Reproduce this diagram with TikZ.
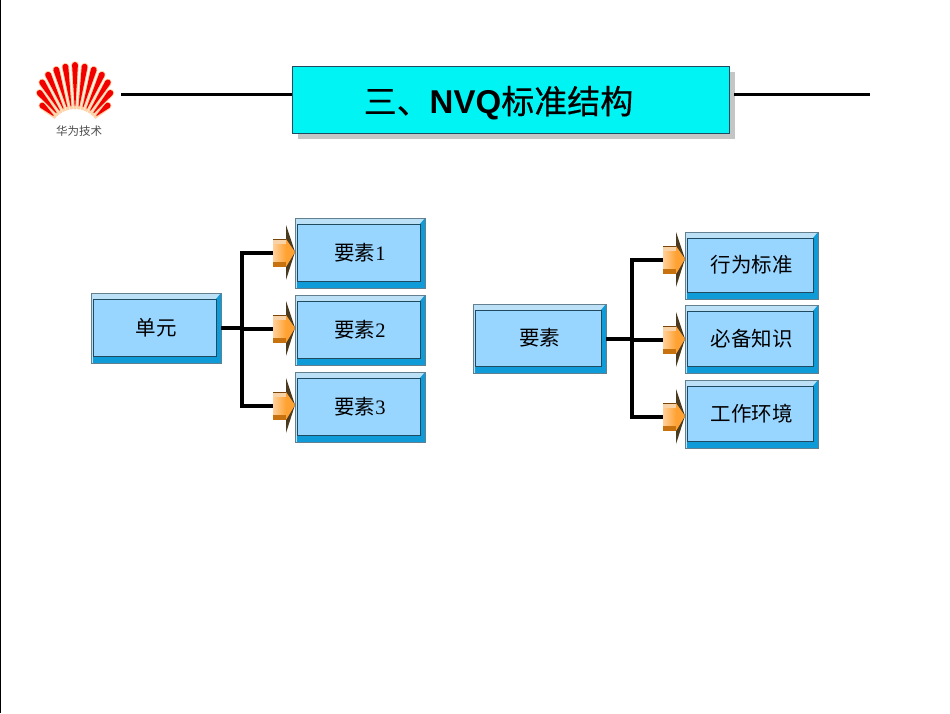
\documentclass[tikz,border=0pt]{standalone}
\usepackage{fontspec}
\setmainfont{Liberation Serif}
\newfontfamily\cjk{Noto Sans CJK SC}
\newfontfamily\cjkt[FakeBold=0.5]{Noto Sans CJK SC}
\newfontfamily\hds{Liberation Sans}
\definecolor{facec}{HTML}{99D6FF}
\definecolor{topc}{HTML}{BCE0F5}
\definecolor{sidec}{HTML}{0E9BD8}
\definecolor{edgec}{HTML}{1F4A60}
\definecolor{cyanc}{HTML}{00F4F4}
\definecolor{shadowc}{HTML}{C4C6C6}
\definecolor{orl}{HTML}{FFD09A}
\definecolor{orr}{HTML}{FFA233}
\definecolor{ord}{HTML}{C8720F}
\definecolor{ort}{HTML}{F8D3A8}
\definecolor{spike}{HTML}{4A3A20}
\tikzset{
  outerbox/.style={draw=edgec!70,line width=.7pt},
  facebox/.style={draw=edgec,line width=.9pt,fill=facec,inner sep=0pt,outer sep=0pt,font=\fontsize{20.5}{24}\selectfont},
  bodybox/.style={inner sep=0pt,outer sep=0pt,draw=none,left color=orl,right color=orr},
  conn/.style={line width=3.2pt,black},
  rulel/.style={line width=3pt,black},
  petal/.style={fill=red!95!black,draw=none}
}
% name, outer x0,y0,x1,y1, text
\newcommand{\elembox}[6]{%
  \pgfmathsetmacro{\ia}{#2+2}\pgfmathsetmacro{\ib}{#3+6}%
  \pgfmathsetmacro{\ic}{#4-5}\pgfmathsetmacro{\id}{#5-7}%
  \pgfmathsetmacro{\cxx}{(\ia+\ic)/2}\pgfmathsetmacro{\cyy}{(\ib+\id)/2}%
  \pgfmathsetmacro{\ww}{\ic-\ia}\pgfmathsetmacro{\hh}{\id-\ib}%
  \fill[topc] (#2,#3) rectangle (#4,\ib);
  \fill[topc] (#2,#3) rectangle (\ia,#5);
  \fill[sidec] (\ia,\id) rectangle (#4,#5);
  \fill[sidec] (\ic,\ib) -- (#4,#3) -- (#4,#5) -- (\ic,#5) -- cycle;
  \draw[outerbox] (#2,#3) rectangle (#4,#5);
  \node[facebox,minimum width=\ww pt,minimum height=\hh pt] (#1) at (\cxx,\cyy) {\hspace*{3pt}\raisebox{-2.5pt}{#6}};
}
% name, tip x, tip y
\newcommand{\blockarrow}[3]{%
  \pgfmathsetmacro{\ta}{#2-22}\pgfmathsetmacro{\tb}{#2-9}%
  \pgfmathsetmacro{\tc}{#3-27}\pgfmathsetmacro{\td}{#3+28}%
  \pgfmathsetmacro{\te}{#3-13}\pgfmathsetmacro{\tf}{#3+15}%
  \pgfmathsetmacro{\tg}{#3-8}\pgfmathsetmacro{\th}{#3+10}%
  \pgfmathsetmacro{\tcc}{#2-15.5}\pgfmathsetmacro{\tdd}{#3+1}%
  \fill[spike] (\tb,\tc) -- (#2,#3) -- (\tb,\td) -- cycle;
  \node[bodybox,minimum width=13pt,minimum height=18pt] (#1) at (\tcc,\tdd) {};
  \fill[ort] (\ta,\te) rectangle (\tb,\tg);
  \draw[ord!60!black,line width=.4pt] (\ta,\te) -- (\tb,\te);
  \fill[ord] (\ta,\th) rectangle (\tb,\tf);
  \fill[orr] (\tb,\te) -- (#2,#3) -- (\tb,\tf) -- cycle;
}
\begin{document}
\begin{tikzpicture}[x=1pt,y=-1pt]
\useasboundingbox (0,0) rectangle (950,713);
\fill[white] (0,0) rectangle (950,713);
\draw[line width=1.6pt,black] (0.6,0) -- (0.6,713);
% logo
\foreach \a/\r in {48/47,-48/47,40/58,-40/58,32/65,-32/65,24/69,-24/69,16/71,-16/71,8/72,-8/72,0/73}{
  \begin{scope}[shift={(75,135)},rotate=\a]
    \fill[orange!35] (-1.6,-26) -- (-3.8,-\r+3) arc[start angle=180,end angle=360,radius=3.8] -- (1.6,-26) -- cycle;
    \fill[petal] (-.4,-29) -- (-2.9,-\r+3) arc[start angle=180,end angle=360,radius=2.9] -- (.4,-29) -- cycle;
  \end{scope}
}
\node[inner sep=0pt,text=black!70,font=\cjk\fontsize{11.5}{13}\selectfont] (brand) at (79,131) {华为技术};
% title
\fill[shadowc] (298,72) rectangle (734.5,138.5);
\node[draw=edgec,line width=1pt,fill=cyanc,minimum width=437pt,minimum height=67pt,inner sep=0pt,outer sep=0pt] (title) at (510.5,99.5) {};
\node[inner sep=0pt,font=\fontsize{33}{38}\selectfont\cjkt] (titletext) at (498.5,103) {三、{\hds\bfseries NVQ}标准结构};
\coordinate (ruleA) at (121,94);
\coordinate (ruleB) at (870,94);
\coordinate (ruleC) at (734,94);
\draw[rulel] (ruleA) -- (ruleA -| title.west);
\draw[rulel] (ruleC) -- (ruleB);
% left group
\elembox{unit}{91}{293}{221}{363}{\cjk 单元}
\elembox{la}{295}{218}{425}{288}{\cjk 要素{\rmfamily 1}}
\elembox{lb}{295}{295}{425}{365}{\cjk 要素{\rmfamily 2}}
\elembox{lc}{295}{372}{425}{442}{\cjk 要素{\rmfamily 3}}
\blockarrow{aa}{295}{252}
\blockarrow{ab}{295}{328}
\blockarrow{ac}{295}{405}
\coordinate (tl) at (242,328);
\draw[conn] ([xshift=5pt]unit.east |- tl) -- (tl);
\draw[conn] (tl) |- (aa.west);
\draw[conn] (tl) -- (tl |- ab.west) -- (ab.west);
\draw[conn] (tl) |- (ac.west);
% right group
\elembox{elem}{473}{304}{606}{373}{\cjk 要素}
\elembox{ra}{685}{232}{818}{299}{\cjk 行为标准}
\elembox{rb}{685}{305}{818}{373}{\cjk 必备知识}
\elembox{rc}{685}{380}{818}{448}{\cjk 工作环境}
\blockarrow{ba}{685}{259}
\blockarrow{bb}{685}{339}
\blockarrow{bc}{685}{416}
\coordinate (tr) at (632,339);
\draw[conn] ([xshift=5pt]elem.east |- tr) -- (tr);
\draw[conn] (tr) |- (ba.west);
\draw[conn] (tr) -- (tr |- bb.west) -- (bb.west);
\draw[conn] (tr) |- (bc.west);
\end{tikzpicture}
\end{document}
